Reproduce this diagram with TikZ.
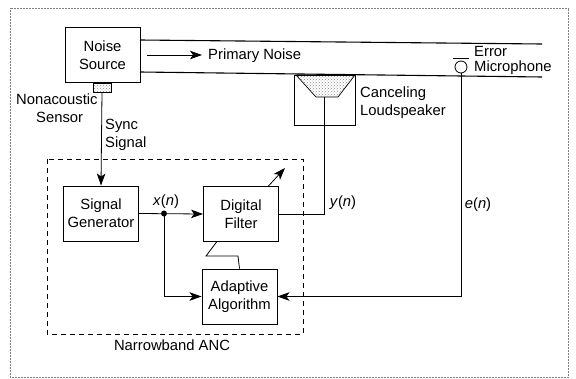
\documentclass[tikz,border=0pt]{standalone}
\usepackage{fontspec}
\setmainfont{Liberation Sans}
\usetikzlibrary{arrows.meta,patterns}
\tikzset{
	blockbox/.style={draw, line width=0.9pt, minimum width=75pt, minimum height=55pt, inner sep=0pt, align=center},
	lbl/.style={inner sep=0pt, align=left, anchor=west},
	wire/.style={line width=0.8pt},
	flow/.style={line width=0.8pt, -{Stealth[length=12pt,width=8.5pt,inset=3pt]}},
	stipple/.style={pattern=crosshatch dots, pattern color=black!45}
}
\begin{document}
\begin{tikzpicture}[x=1pt, y=-1pt, font=\fontsize{14.8}{18}\selectfont]
	%%%%% FRAME %%%%%
	\useasboundingbox (0, 0) rectangle (576, 378);
	\draw[line width=0.5pt, color=black!50, densely dotted] (10, 8) rectangle (568, 377);
	\draw[line width=0.9pt, dash pattern=on 5pt off 4pt] (47, 159) rectangle (303, 334);

	%%%%% BLOCKS %%%%%
	\node[blockbox] (source) at (102.5, 55) {Noise\\Source};
	\node[blockbox] (generator) at (101, 213.5) {Signal\\Generator};
	\node[blockbox] (filter) at (241, 214) {Digital\\Filter};
	\node[blockbox] (algorithm) at (239.5, 296.5) {Adaptive\\Algorithm};
	\node[draw, stipple, line width=0.6pt, minimum width=18pt, minimum height=9pt, inner sep=0pt] (sensor) at (102, 87.5) {};

	%%%%% DUCT %%%%%
	\coordinate (ducttop) at (542, 44);
	\coordinate (ductbottom) at (542, 77);
	\draw[line width=1.1pt] (140, 40) -- (ducttop);
	\draw[line width=1.1pt] (140, 72) -- (ductbottom);
	\coordinate (noisestart) at (147, 55);
	\node[lbl] (primary) at (208, 56) {Primary Noise};
	\draw[flow] (noisestart) -- (202, 55);

	%%%%% LOUDSPEAKER %%%%%
	\node[draw, line width=0.7pt, minimum width=61pt, minimum height=50pt, inner sep=0pt] (speaker) at (324.5, 100) {};
	\draw[line width=0.7pt, stipple] (296, 75) -- (316, 97) -- (338, 97) -- (355, 75) -- cycle;
	\coordinate (cone) at (324, 97);
	\node[lbl] (canceling) at (360, 103) {Canceling\\Loudspeaker};

	%%%%% MICROPHONE %%%%%
	\node[draw, circle, line width=0.8pt, minimum size=12pt, inner sep=0pt] (mic) at (461, 67) {};
	\draw[line width=0.8pt] (453, 58) -- (469, 58);
	\node[lbl] (error) at (474, 60.5) {Error\\[-3pt]Microphone};

	%%%%% SIGNALS %%%%%
	\draw[flow] (sensor.south) -- (generator.north);
	\node[lbl] (nonacoustic) at (16, 108.5) {Nonacoustic\\\hspace*{20pt}Sensor};
	\node[lbl] (sync) at (105, 135) {Sync\\Signal};

	\coordinate (branch) at (164, 213.5);
	\draw[flow] (generator.east) -- (filter.west);
	\fill (branch) circle (3pt);
	\draw[flow] (branch) |- (algorithm.west);
	\node[inner sep=0pt] (xn) at (166, 202) {\textit{x}(\textit{n})};

	\coordinate (knee) at (206, 256);
	\draw[wire] (algorithm.north) -- (238, 256) -- (knee) -- (217, 241.5);
	\coordinate (adapttip) at (285, 168);
	\draw[flow] (268, 186.5) -- (adapttip);

	\coordinate (ycorner) at (cone |- filter.east);
	\draw[wire] (filter.east) -- (ycorner) -- (cone);
	\node[inner sep=0pt] (yn) at (343, 203) {\textit{y}(\textit{n})};

	\coordinate (ecorner) at (mic.south |- algorithm.east);
	\draw[wire] (mic.south) -- (ecorner);
	\draw[flow] (ecorner) -- (algorithm.east);
	\node[inner sep=0pt] (en) at (478, 205) {\textit{e}(\textit{n})};

	\node[inner sep=0pt] (anc) at (172, 345) {Narrowband ANC};
\end{tikzpicture}
\end{document}
